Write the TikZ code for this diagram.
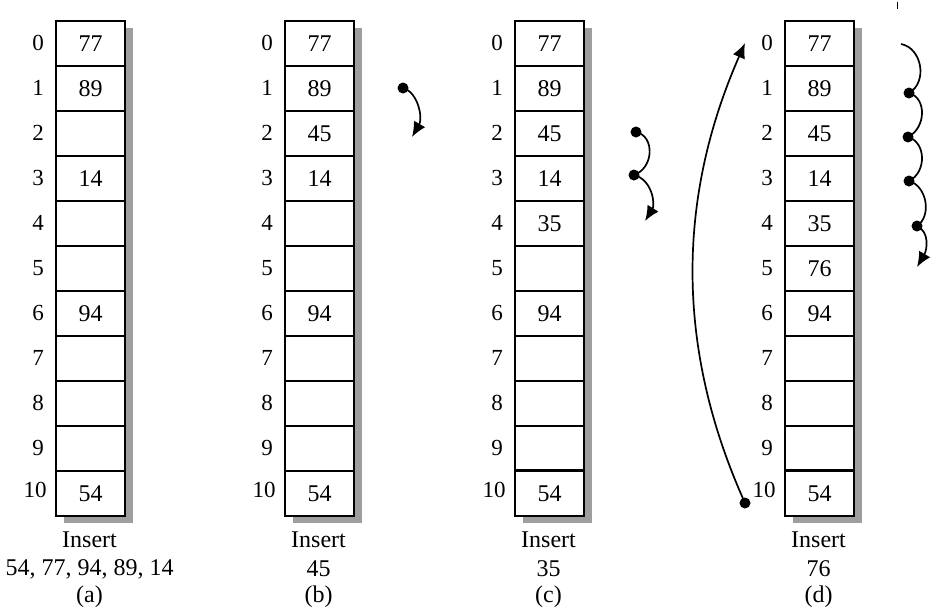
\documentclass[tikz,border=0pt]{standalone}
\usepackage{fontspec}
\setmainfont{Liberation Serif}
\usetikzlibrary{arrows.meta}
\begin{document}
\begin{tikzpicture}[x=1pt,y=-1pt,
  cell/.style={draw,fill=white,line width=2pt,minimum width=69pt,minimum height=45pt,inner sep=0pt,anchor=north west,font=\fontsize{24}{27}\selectfont},
  idx/.style={font=\fontsize{23}{26}\selectfont,inner sep=0pt},
  capt/.style={font=\fontsize{24}{27}\selectfont,inner sep=0pt},
  shadowfill/.style={fill=black!38,draw=none},
  dotc/.style={circle,fill=black,inner sep=0pt,minimum size=11pt},
  arr/.style={line width=1.7pt,-{Latex[length=15pt,width=13pt]}},
  plain/.style={line width=1.7pt}]
\useasboundingbox (0,0) rectangle (933,614);
% shadows
\foreach \lx in {55,284,514,784}
  \fill[shadowfill] ({\lx+9},28) rectangle ({\lx+78},523);
% column a
\foreach \v [count=\i from 0] in {77,89,{},14,{},{},94,{},{},{},54}
  \node[cell] (a\i) at (55,{20+45*\i}) {\v};
% column b
\foreach \v [count=\i from 0] in {77,89,45,14,{},{},94,{},{},{},54}
  \node[cell] (b\i) at (284,{20+45*\i}) {\v};
% column c
\foreach \v [count=\i from 0] in {77,89,45,14,35,{},94,{},{},{},54}
  \node[cell] (c\i) at (514,{20+45*\i}) {\v};
% column d
\foreach \v [count=\i from 0] in {77,89,45,14,35,76,94,{},{},{},54}
  \node[cell] (d\i) at (784,{20+45*\i}) {\v};
% slightly heavier line between rows 9 and 10 in (c) and (d)
\draw[line width=3pt] (c10.north west) -- (c10.north east);
\draw[line width=3pt] (d10.north west) -- (d10.north east);
% index labels
\foreach \lx/\n in {55/a,284/b,514/c,784/d}{
  \foreach \i in {0,...,9}
    \node[idx] (\n i\i) at ({\lx-17},{43+45*\i}) {\i};
  \node[idx] (\n i10) at ({\lx-20},{490}) {10};
}
% captions
\node[capt] (capa1) at (89.5,540) {Insert};
\node[capt] (capa2) at (89.5,569) {54, 77, 94, 89, 14};
\node[capt] (capa3) at (89.5,597) {(a)};
\node[capt] (capb1) at (318.5,540) {Insert};
\node[capt] (capb2) at (318.5,569) {45};
\node[capt] (capb3) at (318.5,597) {(b)};
\node[capt] (capc1) at (548.5,540) {Insert};
\node[capt] (capc2) at (548.5,569) {35};
\node[capt] (capc3) at (548.5,597) {(c)};
\node[capt] (capd1) at (818.5,540) {Insert};
\node[capt] (capd2) at (818.5,569) {76};
\node[capt] (capd3) at (818.5,597) {(d)};
% arrows (b)
\node[dotc] (bp1) at (403,88) {};
\coordinate (bt) at (412,137);
\draw[arr] (bp1.center) .. controls (418,92) and (423,118) .. (bt);
% arrows (c)
\node[dotc] (cp1) at (636,132) {};
\node[dotc] (cp2) at (634,175) {};
\coordinate (ct) at (645,221);
\draw[plain] (cp1.center) .. controls (655,136) and (654,168) .. (cp2.center);
\draw[arr] (cp2.center) .. controls (653,180) and (655,205) .. (ct);
% arrows (d) right chain
\coordinate (dp0) at (901,44);
\node[dotc] (dp1) at (909,93) {};
\node[dotc] (dp2) at (908,137) {};
\node[dotc] (dp3) at (909,181) {};
\node[dotc] (dp4) at (917,226) {};
\coordinate (dt) at (917,267);
\draw[plain] (dp0) .. controls (922,48) and (928,82) .. (dp1.center);
\draw[plain] (dp1.center) .. controls (927,98) and (926,128) .. (dp2.center);
\draw[plain] (dp2.center) .. controls (926,142) and (927,172) .. (dp3.center);
\draw[plain] (dp3.center) .. controls (927,186) and (932,216) .. (dp4.center);
\draw[arr] (dp4.center) .. controls (930,232) and (927,250) .. (dt);
% big arc (d)
\node[dotc] (dbig) at (745,503) {};
\coordinate (dbt) at (745,43);
\draw[arr] (dbig.center) .. controls (676,350) and (676,200) .. (dbt);
% small tick mark at top right
\coordinate (tk1) at (897,2);
\coordinate (tk2) at (897,9);
\draw[line width=1pt] (tk1) -- (tk2);
\end{tikzpicture}
\end{document}
